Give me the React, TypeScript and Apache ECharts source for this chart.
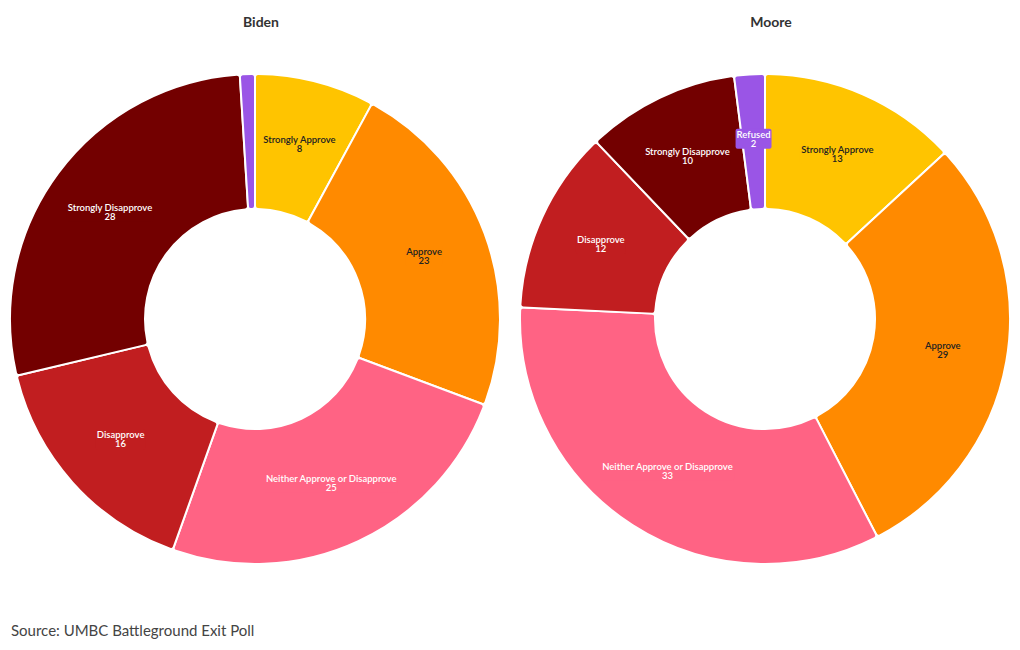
import React, { useEffect, useRef } from "react";
import * as echarts from "echarts";

const categories = [
  "Strongly Approve",
  "Approve",
  "Neither Approve or Disapprove",
  "Disapprove",
  "Strongly Disapprove",
  "Refused",
];
const bidenValues = [8, 23, 25, 16, 28, 1];
const mooreValues = [13, 29, 33, 12, 10, 2];
const colors = ["#FFC400", "#FF8A00", "#FF6384", "#C11E20", "#730000", "#9A55E6"];
const labelColors = ["#222222", "#222222", "#ffffff", "#ffffff", "#ffffff", "#ffffff"];
const titles = ["Biden", "Moore"];
const source = "Source: UMBC Battleground Exit Poll";

const FONT = "Lato, 'Noto Sans', sans-serif";

function buildData(values: number[]) {
  return categories.map((name, i) => ({
    name,
    value: values[i],
    itemStyle: { color: colors[i] },
    label: { color: labelColors[i], backgroundColor: colors[i] },
  }));
}

function pieSeries(values: number[], cx: number) {
  return {
    type: "pie",
    center: [cx, 319],
    radius: [110, 245],
    startAngle: 90,
    clockwise: true,
    minShowLabelAngle: 5,
    avoidLabelOverlap: false,
    itemStyle: { borderColor: "#ffffff", borderWidth: 2, borderRadius: 3 },
    label: {
      show: true,
      position: "inside",
      formatter: "{b}\n{c}",
      fontFamily: FONT,
      fontSize: 9.5,
      fontWeight: 600,
      lineHeight: 9,
      padding: [1, 1],
      borderRadius: 2,
    },
    labelLine: { show: false },
    emphasis: { disabled: true },
    data: buildData(values),
  };
}

export default function App() {
  const ref = useRef<HTMLDivElement>(null);
  useEffect(() => {
    if (!ref.current) return;
    const chart = echarts.init(ref.current, undefined, { renderer: "svg" });
    chart.setOption({
      animation: false,
      backgroundColor: "#ffffff",
      title: [
        {
          text: titles[0],
          left: 256,
          top: 9,
          textAlign: "center",
          textStyle: { fontFamily: FONT, fontSize: 14, fontWeight: 700, color: "#333333" },
        },
        {
          text: titles[1],
          left: 766,
          top: 9,
          textAlign: "center",
          textStyle: { fontFamily: FONT, fontSize: 14, fontWeight: 700, color: "#333333" },
        },
        {
          text: source,
          left: 6,
          top: 617,
          textStyle: { fontFamily: FONT, fontSize: 15, fontWeight: 400, color: "#444444" },
        },
      ],
      series: [pieSeries(bidenValues, 255), pieSeries(mooreValues, 765)],
    });
    return () => chart.dispose();
  }, []);
  return (
    <div
      ref={ref}
      style={{ position: "fixed", left: 0, top: 0, width: 1020, height: 650 }}
    />
  );
}
